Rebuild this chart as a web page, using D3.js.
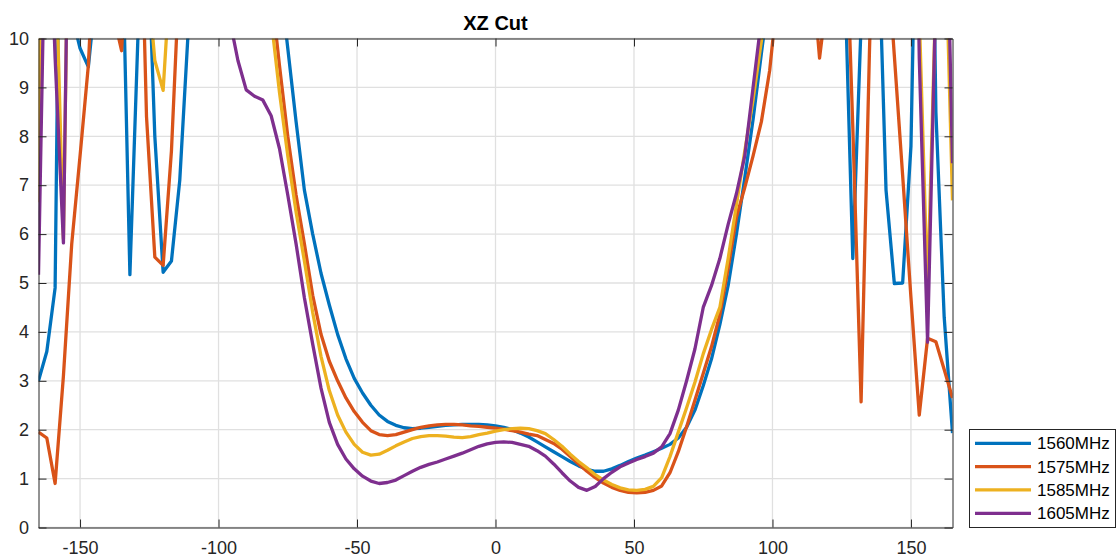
<!DOCTYPE html>
<html>
<head>
<meta charset="utf-8">
<script src="https://cdn.jsdelivr.net/npm/d3@7"></script>
<style>
  html, body { margin: 0; padding: 0; background: #fff; }
  svg { display: block; font-family: "Liberation Sans", Arial, Helvetica, sans-serif; }
</style>
</head>
<body>
<svg id="chart" width="1120" height="560"></svg>
<script>
// ---------- data ----------
const angles = [
  -165,-162,-159,-156,-153,-150,-147,-144,-141,-138,
  -135,-132,-129,-126,-123,-120,-117,-114,-111,-108,
  -105,-102,-99,-96,-93,-90,-87,-84,-81,-78,
  -75,-72,-69,-66,-63,-60,-57,-54,-51,-48,
  -45,-42,-39,-36,-33,-30,-27,-24,-21,-18,
  -15,-12,-9,-6,-3,0,3,6,9,12,
  15,18,21,24,27,30,33,36,39,42,
  45,48,51,54,57,60,63,66,69,72,
  75,78,81,84,87,90,93,96,99,102,
  105,108,111,114,117,120,123,126,129,132,
  135,138,141,144,147,150,153,156,159,162,165
];

const seriesNames = ["1560MHz", "1575MHz", "1585MHz", "1605MHz"];

const v1560 = [
  3.0, 3.6, 4.9, 20, 10.5, 9.8, 9.42, 11.1, 14, 16,
  12.7, 5.17, 10.2, 12.8, 8.0, 5.22, 5.45, 7.1, 10.1, 14,
  16, 17, 16, 15, 14, 13.5, 13, 12.5, 12, 11.3,
  9.8, 8.3, 6.9, 6.0, 5.2, 4.55, 3.95, 3.45, 3.05, 2.75,
  2.5, 2.3, 2.17, 2.09, 2.04, 2.02, 2.03, 2.05, 2.07, 2.09,
  2.1, 2.11, 2.11, 2.11, 2.1, 2.08, 2.05, 2.0, 1.93, 1.85,
  1.75, 1.65, 1.55, 1.45, 1.35, 1.26, 1.19, 1.15, 1.15, 1.2,
  1.27, 1.35, 1.42, 1.48, 1.55, 1.62, 1.7, 1.83, 2.05, 2.4,
  2.9, 3.45, 4.15, 4.95, 6.0, 7.15, 8.35, 9.7, 11, 12.5,
  14, 15, 16, 16, 15, 14, 13, 11.5, 5.5, 10.3,
  15, 12.6, 6.9, 4.99, 5.0, 7.8, 16.6, 20, 8.5, 4.3, 1.93
];

const v1575 = [
  1.95, 1.83, 0.9, 3.1, 5.8, 7.6, 9.45, 13, 14, 10.5,
  9.75, 12.9, 15, 8.4, 5.53, 5.36, 7.7, 11.5, 14, 16,
  17, 17, 16, 15, 14, 13, 12.5, 12, 11, 9.45,
  8.0, 6.8, 5.8, 4.75, 3.95, 3.4, 3.0, 2.65, 2.37, 2.15,
  1.98, 1.9, 1.88, 1.9, 1.95, 2.0, 2.05, 2.08, 2.1, 2.11,
  2.11, 2.1, 2.08, 2.07, 2.05, 2.03, 2.01, 1.98, 1.95, 1.91,
  1.88, 1.8, 1.72, 1.6, 1.45, 1.3, 1.15, 1.02, 0.91, 0.82,
  0.76, 0.72, 0.71, 0.72, 0.76, 0.85, 1.12, 1.55, 2.06, 2.6,
  3.15, 3.7, 4.35, 5.3, 6.35, 6.95, 7.6, 8.3, 9.35, 11,
  13, 14, 13, 11.6, 9.6, 11, 12.5, 13.3, 8.2, 2.57,
  9.7, 16, 12.1, 9.65, 7.2, 4.7, 2.3, 3.87, 3.8, 3.23, 2.65
];

const v1585 = [
  6.65, 25, 12.1, 5.9, 17.6, 20, 19, 18, 17, 16,
  15, 14, 13, 11.5, 9.55, 8.94, 11.7, 14, 16, 17,
  17, 16, 15, 14, 13, 12.5, 12, 11.3, 10.4, 8.9,
  7.6, 6.45, 5.45, 4.4, 3.5, 2.8, 2.3, 1.95, 1.7, 1.54,
  1.48, 1.5, 1.58, 1.67, 1.75, 1.82, 1.86, 1.88, 1.88, 1.87,
  1.85, 1.84, 1.86, 1.9, 1.93, 1.97, 2.0, 2.02, 2.03, 2.02,
  1.98, 1.92, 1.8, 1.66, 1.5, 1.35, 1.22, 1.08, 0.97, 0.88,
  0.81, 0.77, 0.76, 0.78, 0.84, 1.02, 1.45, 1.95, 2.45, 2.97,
  3.55, 4.05, 4.5, 5.5, 6.6, 7.7, 8.75, 9.95, 11, 12.5,
  14, 15, 16, 16, 17, 17, 18, 18, 19, 19,
  20, 20, 20, 20, 20, 20, 10.5, 4.8, 11, 13, 6.69
];

const v1605 = [
  5.17, 14.3, 9.6, 5.82, 18, 20, 20, 19, 18, 17,
  16, 15, 15, 14, 14, 13, 13, 12.5, 12.5, 12,
  12, 11.5, 11.2, 10.4, 9.55, 8.95, 8.82, 8.74, 8.42, 7.75,
  6.8, 5.8, 4.7, 3.75, 2.85, 2.15, 1.7, 1.4, 1.2, 1.05,
  0.95, 0.9, 0.92, 0.97, 1.06, 1.15, 1.23, 1.29, 1.34, 1.4,
  1.46, 1.52, 1.59, 1.66, 1.71, 1.74, 1.75, 1.74, 1.7, 1.66,
  1.57, 1.46, 1.3, 1.12, 0.95, 0.82, 0.76, 0.84, 1.0, 1.13,
  1.24, 1.32, 1.39, 1.45, 1.52, 1.65, 1.92, 2.4, 3.0, 3.65,
  4.5, 4.95, 5.5, 6.2, 6.83, 7.6, 9.0, 10.4, 12, 13,
  14, 15, 15, 16, 16, 17, 17, 18, 18, 19,
  19, 20, 20, 20, 20, 20, 9.6, 3.79, 11, 15.2, 7.45
];

const xTicks = [-150, -100, -50, 0, 50, 100, 150];
const yTicks = [0, 1, 2, 3, 4, 5, 6, 7, 8, 9, 10];
const titleText = "XZ Cut";
const colors = ["#0072BD", "#D95319", "#EDB120", "#7E2F8E"];

// ---------- layout ----------
const svg = d3.select("#chart");
const L = 38.5, R = 952.5, T = 38.5, B = 527.5;
const x = d3.scaleLinear().domain([-165, 165]).range([L, R]);
const y = d3.scaleLinear().domain([0, 10]).range([B, T]);
const axisColor = "#262626";
const gridColor = "#e0e0e0";

// grid
const grid = svg.append("g");
grid.selectAll("line.gx").data(xTicks).enter().append("line")
  .attr("x1", d => x(d)).attr("x2", d => x(d))
  .attr("y1", T).attr("y2", B)
  .attr("stroke", gridColor).attr("stroke-width", 1.3);
grid.selectAll("line.gy").data(yTicks).enter().append("line")
  .attr("x1", L).attr("x2", R)
  .attr("y1", d => y(d)).attr("y2", d => y(d))
  .attr("stroke", gridColor).attr("stroke-width", 1.3);

// clip
svg.append("clipPath").attr("id", "plotclip")
  .append("rect").attr("x", L).attr("y", T).attr("width", R - L).attr("height", B - T);

// lines
const allSeries = [v1560, v1575, v1585, v1605];
const line = d3.line().x((d, i) => x(angles[i])).y(d => y(d));
const lines = svg.append("g").attr("clip-path", "url(#plotclip)");
allSeries.forEach((vals, k) => {
  lines.append("path")
    .datum(vals)
    .attr("d", line)
    .attr("fill", "none")
    .attr("stroke", colors[k])
    .attr("stroke-width", 3.3)
    .attr("stroke-linejoin", "round");
});

// axes
const tickLen = 8;
const fontTick = 18;
const axB = svg.append("g").attr("transform", `translate(0,${B})`)
  .call(d3.axisBottom(x).tickValues(xTicks).tickSizeInner(-tickLen).tickSizeOuter(0).tickPadding(14)
    .tickFormat(d3.format("d")));
const axT = svg.append("g").attr("transform", `translate(0,${T})`)
  .call(d3.axisTop(x).tickValues(xTicks).tickSizeInner(-tickLen).tickSizeOuter(0).tickFormat(""));
const axL = svg.append("g").attr("transform", `translate(${L},0)`)
  .call(d3.axisLeft(y).tickValues(yTicks).tickSizeInner(-tickLen).tickSizeOuter(0).tickPadding(14)
    .tickFormat(d3.format("d")));
const axR = svg.append("g").attr("transform", `translate(${R},0)`)
  .call(d3.axisRight(y).tickValues(yTicks).tickSizeInner(-tickLen).tickSizeOuter(0).tickFormat(""));

[axB, axT, axL, axR].forEach(a => {
  a.select(".domain").attr("stroke", axisColor).attr("stroke-width", 1);
  a.selectAll(".tick line").attr("stroke", axisColor).attr("stroke-width", 1);
  a.selectAll(".tick text").attr("fill", axisColor)
    .style("font-size", fontTick + "px")
    .style("font-family", '"Liberation Sans", Arial, Helvetica, sans-serif');
});
axB.selectAll(".tick text").text(d => d < 0 ? "-" + Math.abs(d) : d);
axL.selectAll(".tick text").attr("dx", "0.25em");

// title
svg.append("text")
  .attr("x", (L + R) / 2).attr("y", 29.5)
  .attr("text-anchor", "middle")
  .style("font-size", "20px").style("font-weight", "bold")
  .attr("fill", "#000")
  .text(titleText);

// legend
const lg = svg.append("g");
lg.append("rect").attr("x", 969.5).attr("y", 429.5).attr("width", 146).attr("height", 98)
  .attr("fill", "#fff").attr("stroke", axisColor).attr("stroke-width", 1);
const rowY = d3.scaleLinear().domain([0, 3]).range([443.3, 513.3]);
seriesNames.forEach((name, k) => {
  lg.append("line")
    .attr("x1", 975).attr("x2", 1031)
    .attr("y1", rowY(k)).attr("y2", rowY(k))
    .attr("stroke", colors[k]).attr("stroke-width", 3.3);
  lg.append("text")
    .attr("x", 1037).attr("y", rowY(k))
    .attr("dy", "0.35em")
    .style("font-size", "17px")
    .attr("fill", "#000")
    .text(name);
});
</script>
</body>
</html>
